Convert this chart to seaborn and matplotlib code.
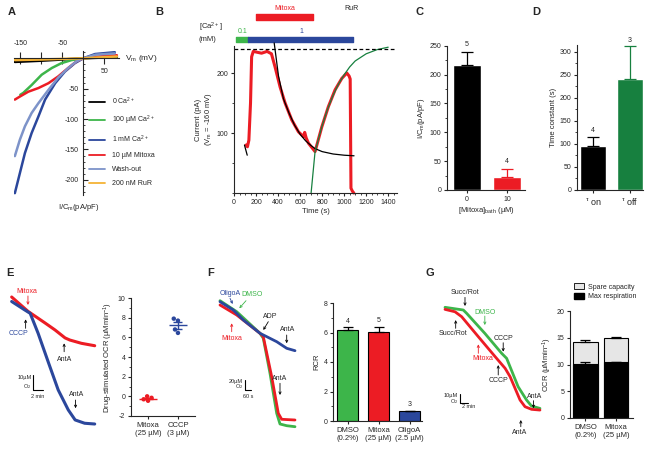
import numpy as np
import pandas as pd
import matplotlib.pyplot as plt
import seaborn as sns
from matplotlib.patches import Patch
from matplotlib.ticker import MultipleLocator

# ---------------- data ----------------
# A: I-V curves (Vm in mV, I/Cm in pA/pF)
ca0_v = [-163, -100, -50, 0, 80]
ca0_i = [-6, -4, -2, 0, 2]
ca100_v = [-150, -143, -123, -99, -75, -52, -28, 0, 40, 80]
ca100_i = [-60, -57, -44, -27, -16, -8, -3, 0, 2, 3]
ca1mm_v = [-163, -151, -139, -123, -107, -91, -67, -44, -20, 0, 28, 75]
ca1mm_i = [-222, -189, -156, -123, -96, -68, -41, -22, -8, 0, 7, 10]
mitoxa_v = [-163, -151, -131, -107, -83, -60, -36, -16, 0, 40, 80]
mitoxa_i = [-68, -63, -55, -49, -41, -30, -16, -5, 0, 3, 5]
wash_v = [-163, -151, -139, -123, -107, -83, -60, -36, -16, 0, 30, 75]
wash_i = [-161, -134, -112, -90, -74, -52, -32, -16, -5, 0, 6, 8]
rur_v = [-163, -100, 0, 80]
rur_i = [-3, -2, 0, 3]

# B: current at -160 mV over time
b_time = [110, 122, 135, 150, 160, 175, 200, 250, 300, 340, 373, 418, 464, 524, 585,
          630, 642, 655, 676, 736, 797, 857, 918, 979, 1024, 1045, 1055, 1062, 1075, 1088]
b_curr = [80, 77, 88, 150, 227, 236, 235, 233, 236, 232, 210, 177, 150, 122, 102,
          94, 101, 92, 83, 69, 110, 144, 172, 191, 200, 195, 190, 8, 3, 0]
fit_on_t = [365, 404, 449, 500, 550, 600, 650, 700, 736, 800, 900, 1000, 1090]
fit_on_i = [250, 195, 157, 133, 113, 98, 87, 79, 74, 69, 65, 63, 62]
fit_start_t = [95, 120]
fit_start_i = [80, 63]
fit_off_t = [700, 736, 800, 850, 900, 950, 1000, 1050, 1100, 1200, 1300, 1400]
fit_off_i = [0, 69, 112, 140, 163, 182, 197, 210, 220, 232, 239, 243]
ca_periods = [(18, 130), (130, 1085)]
ca_levels = ["0.1", "1"]
mitoxa_period = (200, 721)
rur_time = 1070

# C
c_labels = ["0", "10"]
c_mean = [217, 23]
c_sem = [22, 13]
c_n = ["5", "4"]

# D
d_labels = [r"$^{\tau}$ on", r"$^{\tau}$ off"]
d_mean = [95, 242]
d_sem = [20, 70]
d_n = ["4", "3"]

# E traces (time in min, O2 change in uM)
e_red_t = [0, 3.1, 6.3, 8.2, 10.1, 11.0, 13.2, 15.7]
e_red_o2 = [0, -9.6, -17.3, -22, -27.3, -28.7, -30.9, -32.5]
e_blue_t = [0, 2.5, 3.5, 5.0, 7.0, 8.8, 10.7, 12.0, 13.8, 15.7]
e_blue_o2 = [-3, -8.7, -10.9, -24.2, -44.2, -62, -75.3, -82, -84.2, -84.7]
# E scatter
e_groups = ["Mitoxa\n(25 \u00b5M)", "CCCP\n(3 \u00b5M)"]
e_mitoxa = [0.0, -0.15, -0.3, -0.45]
e_cccp = [7.9, 7.7, 6.8, 6.45]

# F traces (time in s, O2 change in uM)
f_green_t = [0, 167, 400, 433, 500, 567, 600, 667, 750]
f_green_o2 = [-1.4, -23.4, -66.6, -76.6, -146.6, -226.6, -248, -251.4, -253.4]
f_red_t = [0, 167, 400, 433, 517, 583, 617, 750]
f_red_o2 = [-10, -30, -66.6, -73.4, -153.4, -226.6, -238.6, -240]
f_blue_t = [0, 133, 233, 400, 567, 667, 750]
f_blue_o2 = [-3.4, -20, -40, -66.6, -83.4, -96.6, -101.4]
# F bars
f_labels = ["DMSO\n(0.2%)", "Mitoxa\n(25 \u00b5M)", "OligoA\n(2.5 \u00b5M)"]
f_mean = [6.15, 6.05, 0.65]
f_sem = [0.2, 0.35, 0.05]
f_n = ["4", "5", "3"]

# G traces (time in min, O2 change in uM)
g_green_t = [0, 4.78, 5.66, 10.4, 14.8, 16.1, 19.1, 21.3, 22.6, 24.8]
g_green_o2 = [-0.3, -3.2, -6.8, -28.3, -49.8, -55.2, -85.7, -100, -106.5, -109]
g_red_t = [0, 2.61, 4.35, 8.7, 13.1, 15.7, 17.0, 19.6, 20.9, 22.6, 24.8]
g_red_o2 = [-2.5, -5.1, -10.4, -31.9, -53.4, -65.9, -74.9, -100, -107.2, -110, -110.8]
# G bars
g_labels = ["DMSO\n(0.2%)", "Mitoxa\n(25 \u00b5M)"]
g_max = [10.1, 10.4]
g_max_sem = [0.45, 0.1]
g_total = [14.2, 14.9]
g_total_sem = [0.4, 0.3]

# ---------------- style ----------------
sns.set_style("ticks")
plt.rcParams['font.family'] = ['Liberation Sans', 'DejaVu Sans']
plt.rcParams['mathtext.default'] = 'regular'
plt.rcParams['axes.unicode_minus'] = False
plt.rcParams['axes.linewidth'] = 0.8
plt.rcParams['xtick.major.width'] = 0.8
plt.rcParams['ytick.major.width'] = 0.8
plt.rcParams['xtick.minor.width'] = 0.6
plt.rcParams['ytick.minor.width'] = 0.6
plt.rcParams['xtick.major.size'] = 2.5
plt.rcParams['ytick.major.size'] = 2.5
plt.rcParams['xtick.minor.size'] = 1.5
plt.rcParams['ytick.minor.size'] = 1.5
plt.rcParams['xtick.labelsize'] = 5
plt.rcParams['ytick.labelsize'] = 5
plt.rcParams['xtick.major.pad'] = 1.5
plt.rcParams['ytick.major.pad'] = 1.5
plt.rcParams['axes.labelsize'] = 5.5
plt.rcParams['axes.labelpad'] = 2

RED = '#ec1c24'
GREEN = '#3db54a'
BLUE = '#2b479c'
DKGREEN = '#17803f'
ORANGE = '#f5b335'
WASH = '#7d93c9'

W, H = 645, 457
fig = plt.figure(figsize=(6.45, 4.57), dpi=100)


def add_ax(x0, y0, x1, y1):
    return fig.add_axes([x0 / W, 1 - y1 / H, (x1 - x0) / W, (y1 - y0) / H])


def arrow(ax, tail, tip, color='black'):
    ax.annotate('', xy=tip, xytext=tail,
                arrowprops=dict(arrowstyle='->', color=color, lw=0.6,
                                mutation_scale=4, shrinkA=0, shrinkB=0))


def letter(x, y, s):
    fig.text(x / W, 1 - y / H, s, fontsize=8, fontweight='bold', va='center', ha='left')


def bar_errors(ax, means, sems, colors, ns=None, cap=4, gap=3):
    for k, (m, s, c) in enumerate(zip(means, sems, colors)):
        ax.errorbar([k], [m], yerr=[[0], [s]], fmt='none', ecolor=c, elinewidth=0.9,
                    capsize=cap, capthick=0.9)
        if ns is not None:
            ax.annotate(ns[k], (k, m + s), xytext=(0, gap), textcoords='offset points',
                        ha='center', va='bottom', fontsize=5)


# ---------------- A ----------------
axA = add_ax(14, 51, 119, 195)
curves = [(ca0_v, ca0_i, 'black', "0 Ca$^{2+}$"),
          (ca100_v, ca100_i, GREEN, "100 \u00b5M Ca$^{2+}$"),
          (ca1mm_v, ca1mm_i, BLUE, "1 mM Ca$^{2+}$"),
          (mitoxa_v, mitoxa_i, RED, "10 \u00b5M Mitoxa"),
          (wash_v, wash_i, WASH, "Wash-out"),
          (rur_v, rur_i, ORANGE, "200 nM RuR")]
for v, i, c, lab in curves:
    sns.lineplot(x=v, y=i, color=c, lw=1.8, label=lab, sort=False, estimator=None, ax=axA)
axA.set_xlim(-165, 85)
axA.set_ylim(-225, 12)
axA.spines['left'].set_position(('data', 0))
axA.spines['bottom'].set_position(('data', 0))
axA.spines[['top', 'right']].set_visible(False)
axA.set_xticks([-150, -100, -50, 50])
axA.set_xticklabels([])
axA.tick_params(axis='x', direction='inout', length=9)
axA.set_yticks([-200, -150, -100, -50])
axA.yaxis.set_minor_locator(MultipleLocator(10))
axA.tick_params(axis='y', which='both', direction='in')
axA.tick_params(axis='y', which='major', length=3.5, pad=3)
for val, yy in [(-150, 24), (-50, 24), (50, -21)]:
    axA.text(val, yy, str(val), ha='center', va='center', fontsize=5)
axA.text(100, 0, "V$_m$ (mV)", ha='left', va='center', fontsize=6)
axA.text(-12, -236, "I/C$_m$(pA/pF)", ha='center', va='top', fontsize=5.5)
leg = axA.legend(loc='upper left', bbox_to_anchor=(86 / W, 1 - 92 / H),
                 bbox_transform=fig.transFigure, frameon=False, fontsize=5,
                 handlelength=2.3, handletextpad=0.9, labelspacing=1.0, borderpad=0)
for ln in leg.get_lines():
    ln.set_linewidth(1.3)
letter(8, 12, "A")

# ---------------- B ----------------
axB = add_ax(234, 46, 397, 193)
sns.lineplot(x=b_time, y=b_curr, color=RED, lw=2.2, sort=False, estimator=None, ax=axB)
sns.lineplot(x=fit_on_t, y=fit_on_i, color='black', lw=0.9, sort=False, estimator=None, ax=axB)
sns.lineplot(x=fit_start_t, y=fit_start_i, color='black', lw=0.9, sort=False, estimator=None, ax=axB)
sns.lineplot(x=fit_off_t, y=fit_off_i, color=DKGREEN, lw=0.9, sort=False, estimator=None, ax=axB)
for ln in axB.lines:
    ln.set_clip_on(False)
axB.axhline(240, ls=(0, (3, 2)), color='black', lw=0.9)
axB.set_xlim(0, 1480)
axB.set_ylim(0, 245)
axB.set_xticks(range(0, 1401, 200))
axB.xaxis.set_minor_locator(MultipleLocator(50))
axB.set_yticks([100, 200])
axB.yaxis.set_minor_locator(MultipleLocator(50))
sns.despine(ax=axB)
axB.set_xlabel("Time (s)")
axB.set_ylabel("Current (pA)\n(V$_m$ = -160 mV)", linespacing=1.2)
for (t0, t1), lev, c in zip(ca_periods, ca_levels, [GREEN, BLUE]):
    axB.broken_barh([(t0, t1 - t0)], (251, 9), color=c, clip_on=False)
    axB.text((t0 + t1) / 2, 264, lev, color=c, ha='center', va='bottom', fontsize=5)
axB.broken_barh([(mitoxa_period[0], mitoxa_period[1] - mitoxa_period[0])], (288, 11),
                color=RED, clip_on=False)
axB.text(sum(mitoxa_period) / 2, 302, "Mitoxa", color=RED, ha='center', va='bottom', fontsize=5)
axB.text(rur_time, 302, "RuR", ha='center', va='bottom', fontsize=5)
axB.annotate('', xy=(rur_time, 262), xytext=(rur_time, 299),
             arrowprops=dict(arrowstyle='-|>', color=ORANGE, lw=1.2, mutation_scale=6,
                             shrinkA=0, shrinkB=0))
axB.text(-320, 268, "[Ca$^{2+}$]\n(mM)", ha='left', va='center', fontsize=5.5, linespacing=1.4)
letter(155, 12, "B")

# ---------------- C ----------------
axC = add_ax(447, 45.7, 525, 190)
sns.barplot(x=c_labels, y=c_mean, hue=c_labels, palette=['black', RED], width=0.7,
            saturation=1, legend=False, ax=axC)
bar_errors(axC, c_mean, c_sem, ['black', RED], c_n, gap=3)
axC.set_xlim(-0.5, 1.45)
axC.set_ylim(0, 250)
axC.set_yticks(range(0, 251, 50))
axC.yaxis.set_minor_locator(MultipleLocator(25))
sns.despine(ax=axC)
axC.set_xlabel("[Mitoxa]$_{bath}$ (\u00b5M)")
axC.set_ylabel("I/C$_m$(pA/pF)")
letter(416, 12, "C")

# ---------------- D ----------------
axD = add_ax(577, 45, 643, 190)
sns.barplot(x=d_labels, y=d_mean, hue=d_labels, palette=['black', DKGREEN], width=0.7,
            saturation=1, legend=False, ax=axD)
bar_errors(axD, d_mean, d_sem, ['black', DKGREEN], d_n, gap=2)
axD.set_xlim(-0.43, 1.35)
axD.set_ylim(0, 315)
axD.set_yticks(range(0, 301, 50))
axD.yaxis.set_minor_locator(MultipleLocator(25))
sns.despine(ax=axD)
axD.tick_params(axis='x', labelsize=6.5)
axD.set_ylabel("Time constant (s)")
axD.set_xlabel("")
letter(532, 12, "D")

# ---------------- E traces ----------------
axEt = add_ax(5, 285, 100, 430)
sns.lineplot(x=e_red_t, y=e_red_o2, color=RED, lw=2.2, sort=False, estimator=None, ax=axEt)
sns.lineplot(x=e_blue_t, y=e_blue_o2, color=BLUE, lw=2.2, sort=False, estimator=None, ax=axEt)
axEt.set_xlim(-1.26, 16.7)
axEt.set_ylim(-88.7, 8)
axEt.axis('off')
axEt.text(2.83, 3.5, "Mitoxa", color=RED, ha='center', va='center', fontsize=5)
arrow(axEt, (3.08, 0.7), (3.08, -5.3), RED)
axEt.text(1.25, -24.2, "CCCP", color=BLUE, ha='center', va='center', fontsize=5)
arrow(axEt, (2.64, -20.9), (2.64, -14.9))
axEt.text(10.06, -42, "AntA", ha='center', va='center', fontsize=5)
arrow(axEt, (9.92, -36.5), (9.92, -30.9))
axEt.text(12.26, -65.3, "AntA", ha='center', va='center', fontsize=5)
arrow(axEt, (12.08, -68.7), (12.08, -74.2))
axEt.plot([4, 4, 6], [-52, -62, -62], color='black', lw=0.8)
axEt.text(3.8, -54, "10\u00b5M", ha='right', va='center', fontsize=4)
axEt.text(3.8, -59.5, "O$_2$", ha='right', va='center', fontsize=4)
axEt.text(5.0, -66.5, "2 min", ha='center', va='center', fontsize=4)
letter(6, 273, "E")

# ---------------- E scatter ----------------
axE = add_ax(131, 298, 195, 416)
e_df = pd.DataFrame({"drug": [e_groups[0]] * len(e_mitoxa) + [e_groups[1]] * len(e_cccp),
                     "ocr": e_mitoxa + e_cccp})
sns.swarmplot(data=e_df, x="drug", y="ocr", hue="drug", palette=[RED, BLUE], size=3.2,
              legend=False, ax=axE)
for k, (g, c) in enumerate(zip(e_groups, [RED, BLUE])):
    vals = e_df.loc[e_df.drug == g, "ocr"]
    m, s = vals.mean(), vals.std() / np.sqrt(len(vals))
    axE.hlines(m, k - 0.3, k + 0.3, color=c, lw=1.0)
    axE.hlines([m - s, m + s], k - 0.15, k + 0.15, color=c, lw=1.0)
    axE.vlines(k, m - s, m + s, color=c, lw=1.0)
axE.set_xlim(-0.57, 1.57)
axE.set_ylim(-2, 10)
axE.set_yticks(range(-2, 11, 2))
axE.yaxis.set_minor_locator(MultipleLocator(1))
sns.despine(ax=axE)
axE.tick_params(axis='x', labelsize=5.5)
axE.set_xlabel("")
axE.set_ylabel("Drug-stimulated OCR (\u00b5Mmin$^{-1}$)")

# ---------------- F traces ----------------
axFt = add_ax(212, 285, 302, 432)
sns.lineplot(x=f_green_t, y=f_green_o2, color=GREEN, lw=2.0, sort=False, estimator=None, ax=axFt)
sns.lineplot(x=f_red_t, y=f_red_o2, color=RED, lw=2.0, sort=False, estimator=None, ax=axFt)
sns.lineplot(x=f_blue_t, y=f_blue_o2, color=BLUE, lw=2.0, sort=False, estimator=None, ax=axFt)
axFt.set_xlim(-80, 820)
axFt.set_ylim(-264, 30)
axFt.axis('off')
axFt.text(100, 13.4, "OligoA", color=BLUE, ha='center', va='center', fontsize=5)
arrow(axFt, (100, 3.4), (127, -8), BLUE)
axFt.text(317, 10, "DMSO", color=GREEN, ha='center', va='center', fontsize=5)
arrow(axFt, (260, -1.4), (193, -16.6), GREEN)
axFt.text(117, -76.6, "Mitoxa", color=RED, ha='center', va='center', fontsize=5)
arrow(axFt, (117, -63.4), (117, -46.6), RED)
axFt.text(500, -33.4, "ADP", ha='center', va='center', fontsize=5)
arrow(axFt, (483, -43.4), (433, -60))
axFt.text(673, -58.6, "AntA", ha='center', va='center', fontsize=5)
arrow(axFt, (667, -70), (667, -86.6))
axFt.text(600, -156.6, "AntA", ha='center', va='center', fontsize=5)
arrow(axFt, (600, -166.6), (600, -190))
axFt.plot([250, 250, 310], [-160, -180, -180], color='black', lw=0.8)
axFt.text(230, -162, "20\u00b5M", ha='right', va='center', fontsize=4)
axFt.text(230, -173, "O$_2$", ha='right', va='center', fontsize=4)
axFt.text(283, -194, "60 s", ha='center', va='center', fontsize=4)
letter(207, 273, "F")

# ---------------- F bars ----------------
axF = add_ax(333, 303, 422, 421)
sns.barplot(x=f_labels, y=f_mean, hue=f_labels, palette=[GREEN, RED, BLUE], width=0.68,
            saturation=1, edgecolor='black', linewidth=0.8, legend=False, ax=axF)
bar_errors(axF, f_mean, f_sem, ['black'] * 3, f_n, cap=3.5, gap=2)
axF.set_xlim(-0.47, 2.4)
axF.set_ylim(0, 8)
axF.set_yticks(range(0, 9, 2))
axF.yaxis.set_minor_locator(MultipleLocator(1))
sns.despine(ax=axF)
axF.tick_params(axis='x', labelsize=5.5)
axF.set_xlabel("")
axF.set_ylabel("RCR")

# ---------------- G traces ----------------
axGt = add_ax(438, 285, 548, 440)
sns.lineplot(x=g_green_t, y=g_green_o2, color=GREEN, lw=2.0, sort=False, estimator=None, ax=axGt)
sns.lineplot(x=g_red_t, y=g_red_o2, color=RED, lw=2.0, sort=False, estimator=None, ax=axGt)
axGt.set_xlim(-1.83, 26.9)
axGt.set_ylim(-143, 23.7)
axGt.axis('off')
axGt.text(5.22, 15.4, "Succ/Rot", ha='center', va='center', fontsize=5)
arrow(axGt, (5.22, 10.4), (5.22, 1.1))
axGt.text(2.17, -28.3, "Succ/Rot", ha='center', va='center', fontsize=5)
arrow(axGt, (2.79, -22.9), (2.79, -14))
axGt.text(10.4, -5.7, "DMSO", color=GREEN, ha='center', va='center', fontsize=5)
arrow(axGt, (10.4, -9.7), (10.4, -19.4), GREEN)
axGt.text(10, -55.2, "Mitoxa", color=RED, ha='center', va='center', fontsize=5)
arrow(axGt, (8.7, -49.8), (8.7, -40.1), RED)
axGt.text(15.2, -33.7, "CCCP", ha='center', va='center', fontsize=5)
arrow(axGt, (15.2, -38.4), (15.2, -48))
axGt.text(13.9, -78.5, "CCCP", ha='center', va='center', fontsize=5)
arrow(axGt, (13.9, -73.1), (13.9, -62.4))
axGt.text(23.3, -96.5, "AntA", ha='center', va='center', fontsize=5)
arrow(axGt, (23.1, -100.7), (23.1, -108.9))
axGt.text(19.6, -135, "AntA", ha='center', va='center', fontsize=5)
arrow(axGt, (19.8, -128.7), (19.8, -121.5))
axGt.plot([3.92, 3.92, 5.92], [-93, -103, -103], color='black', lw=0.8)
axGt.text(3.4, -95.5, "10\u00b5M", ha='right', va='center', fontsize=4)
axGt.text(3.4, -101.5, "O$_2$", ha='right', va='center', fontsize=4)
axGt.text(6.3, -107.5, "2 min", ha='center', va='center', fontsize=4)
letter(426, 273, "G")

# ---------------- G bars ----------------
axG = add_ax(570, 311, 633, 418)
sns.barplot(x=g_labels, y=g_total, color='#e6e6e6', width=0.8, edgecolor='black',
            saturation=1, linewidth=0.8, ax=axG)
sns.barplot(x=g_labels, y=g_max, color='black', width=0.8, edgecolor='black',
            saturation=1, linewidth=0.8, ax=axG)
bar_errors(axG, g_total, g_total_sem, ['black'] * 2, cap=3.5)
bar_errors(axG, g_max, g_max_sem, ['black'] * 2, cap=3.5)
axG.set_xlim(-0.5, 1.55)
axG.set_ylim(0, 20)
axG.set_yticks(range(0, 21, 5))
sns.despine(ax=axG)
axG.tick_params(axis='x', labelsize=5.5)
axG.set_xlabel("")
axG.set_ylabel("OCR (\u00b5Mmin$^{-1}$)")
fig.legend(handles=[Patch(facecolor='#e6e6e6', edgecolor='black', lw=0.6, label="Spare capacity"),
                    Patch(facecolor='black', edgecolor='black', label="Max respiration")],
           loc='upper left', bbox_to_anchor=(571 / W, 1 - 280 / H), frameon=False, fontsize=5,
           handlelength=1.3, handleheight=0.8, handletextpad=0.6, labelspacing=0.4, borderpad=0)

fig.savefig("out.png", dpi=100)
